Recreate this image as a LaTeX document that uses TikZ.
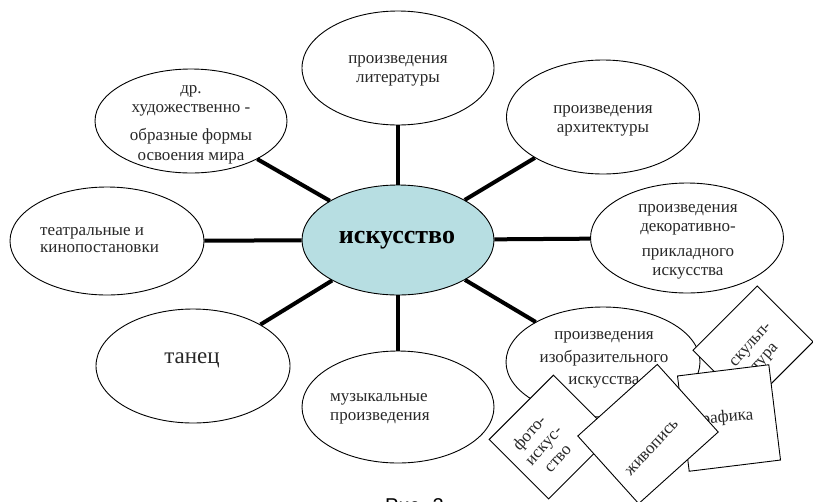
\documentclass[tikz,border=0pt]{standalone}
\usepackage{fontspec}
\setmainfont{Liberation Serif}
\newfontfamily\capfont{Liberation Sans}
\usetikzlibrary{shapes.geometric}
\definecolor{centerfill}{RGB}{183,222,226}
\definecolor{inkgray}{RGB}{40,40,40}
\begin{document}
\begin{tikzpicture}[x=1pt,y=-1pt,
  oval/.style={ellipse, draw=black, line width=0.9pt, fill=white, inner sep=0pt},
  lbl/.style={font=\fontsize{17}{19}\selectfont, text=inkgray, align=center, inner sep=0pt},
  spoke/.style={line width=4pt, black},
  card/.style={draw=black, line width=0.9pt, fill=white, inner sep=0pt},
]
\useasboundingbox (0,0) rectangle (813,501);
\fill[white] (0,0) rectangle (813,501);

% ellipses
\node[oval, fill=centerfill, minimum width=192pt, minimum height=110pt] (c) at (398,240) {};
\node[oval, minimum width=192pt, minimum height=114pt] (lit) at (398,68) {};
\node[oval, minimum width=193pt, minimum height=114pt] (arch) at (603,117) {};
\node[oval, minimum width=193pt, minimum height=110pt] (dec) at (687,238) {};
\node[oval, minimum width=194pt, minimum height=110pt] (fine) at (603,362) {};
\node[oval, minimum width=192pt, minimum height=112pt] (mus) at (398,407) {};
\node[oval, minimum width=194pt, minimum height=114pt] (dan) at (193,366) {};
\node[oval, minimum width=194pt, minimum height=108pt] (thr) at (107,241) {};
\node[oval, minimum width=192pt, minimum height=104pt] (oth) at (191,121) {};

% spokes
\draw[spoke] (c) -- (lit);
\draw[spoke] (c) -- (arch);
\draw[spoke] (c) -- (dec);
\draw[spoke] (c) -- (fine);
\draw[spoke] (c) -- (mus);
\draw[spoke] (c) -- (dan);
\draw[spoke] (c) -- (thr);
\draw[spoke] (c) -- (oth);

% texts
\node[font=\bfseries\fontsize{26}{30}\selectfont, inner sep=0pt, text=black] (cT) at (397,240) {искусство};
\node[lbl] (litT) at (398,71) {произведения\\литературы};
\node[lbl] (archT) at (603,121) {произведения\\архитектуры};
\node[lbl] (decT) at (688,242) {произведения\\декоративно-\\[6pt]прикладного\\искусства};
\node[lbl] (fineT) at (604,360) {произведения\\[4pt]изобразительного\\[3pt]искусства};
\node[lbl] (othT) at (191,125) {др.\\художественно -\\[9pt]образные формы\\[1pt]освоения мира};
\node[lbl, align=left, anchor=west] (thrT) at (40,240) {театральные и\\[-2pt]кинопостановки};
\node[lbl, align=left, anchor=west] (musT) at (330,409) {музыкальные\\произведения};
\node[lbl, font=\fontsize{23}{26}\selectfont] (danT) at (192,360) {танец};

% cards
\node[card, minimum width=91pt, minimum height=79pt, rotate=45] (sk) at (753,346) {};
\node[lbl, rotate=48] (skT) at (759,352) {скульп-\\тура};
\node[card, minimum width=92pt, minimum height=96pt, rotate=7] (gr) at (729,418) {};
\node[lbl, rotate=5] (grT) at (724,418) {графика};
\node[card, minimum width=91pt, minimum height=84pt, rotate=45] (ph) at (551,437) {};
\node[lbl, rotate=48] (phT) at (543,445) {фото-\\искус-\\ство};
\node[card, minimum width=107pt, minimum height=91pt, rotate=42] (zh) at (648,434) {};
\node[lbl, rotate=47] (zhT) at (652,448) {живопись};

% caption
\node[font=\capfont\fontsize{20}{24}\selectfont, anchor=base west, inner sep=0pt, text=black] (cap) at (385,512.5) {Рис. 2};
\end{tikzpicture}
\end{document}
